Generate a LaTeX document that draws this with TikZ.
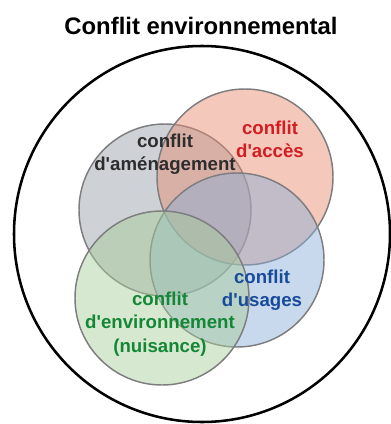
\documentclass[tikz,border=0pt]{standalone}
\usepackage{fontspec}
\setmainfont{Liberation Sans}

\definecolor{amenagfill}{RGB}{150,158,166}
\definecolor{accesfill}{RGB}{232,140,112}
\definecolor{usagesfill}{RGB}{138,174,216}
\definecolor{envfill}{RGB}{168,206,152}
\definecolor{venngray}{RGB}{125,125,128}
\definecolor{amenagtext}{RGB}{45,45,45}
\definecolor{accestext}{RGB}{210,30,35}
\definecolor{usagestext}{RGB}{25,75,155}
\definecolor{envtext}{RGB}{20,135,55}

\begin{document}
\begin{tikzpicture}[x=0.75pt,y=0.75pt,yscale=-1,xscale=1,
    venn/.style={draw=venngray,line width=1.1pt,fill opacity=0.47},
    lbl/.style={align=center,inner sep=0.75pt,font=\bfseries\fontsize{14}{17.5}\selectfont}]
        \useasboundingbox (0,0) rectangle (390,424);

        %Shape: Circle [id:outer]
        \draw [line width=1.9pt] (202,234) circle [radius=188];

        %Shape: Circle [id:amenagement]
        \draw [venn, fill=amenagfill] (165,210) circle [radius=86];
        %Shape: Circle [id:acces]
        \draw [venn, fill=accesfill] (245,177) circle [radius=88];
        %Shape: Circle [id:usages]
        \draw [venn, fill=usagesfill] (237,260) circle [radius=87];
        %Shape: Circle [id:environnement]
        \draw [venn, fill=envfill] (162,298) circle [radius=87];

        % Text Node
        \node (title) at (201,26) [inner sep=0.75pt,font=\bfseries\fontsize{17.9}{21}\selectfont] {Conflit environnemental};
        % Text Node
        \node (amenag) at (165,154) [lbl,text=amenagtext] {conflit\\d\textquotesingle aménagement};
        % Text Node
        \node (acces) at (270,139) [lbl,text=accestext] {conflit\\d\textquotesingle accès};
        % Text Node
        \node (usages) at (262,290) [lbl,text=usagestext] {conflit\\d\textquotesingle usages};
        % Text Node
        \node (env) at (160,324) [lbl,text=envtext] {conflit\\d\textquotesingle environnement\\(nuisance)};

    \end{tikzpicture}
\end{document}
